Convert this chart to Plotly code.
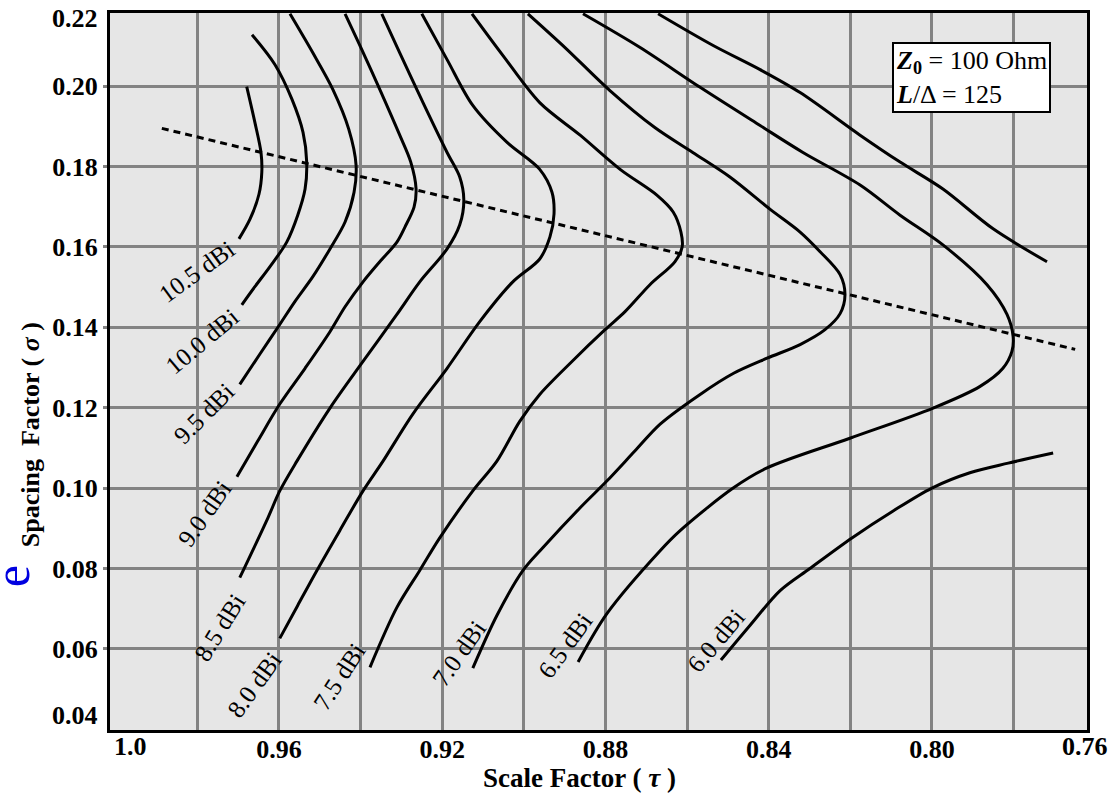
import plotly.graph_objects as go

# ---------------- data ----------------
# Contour lines of constant gain, sampled as (tau, sigma) points
tau_105 = [0.9679, 0.9659, 0.9644, 0.9642, 0.9649, 0.9671, 0.9698]
sig_105 = [0.1999, 0.1910, 0.1835, 0.1786, 0.1731, 0.1669, 0.1620]

tau_100 = [0.9666, 0.9610, 0.9568, 0.9541, 0.9532, 0.9536, 0.9554, 0.9581, 0.9622, 0.9659, 0.9691]
sig_100 = [0.2128, 0.2054, 0.1967, 0.1885, 0.1811, 0.1744, 0.1679, 0.1612, 0.1551, 0.1501, 0.1456]

tau_95 = [0.9573, 0.9517, 0.9468, 0.9429, 0.9411, 0.9416, 0.9438, 0.9475, 0.9517, 0.9561, 0.9598, 0.9647, 0.9696]
sig_95 = [0.2180, 0.2083, 0.1992, 0.1893, 0.1803, 0.1736, 0.1662, 0.1595, 0.1526, 0.1464, 0.1407, 0.1333, 0.1258]

tau_90 = [0.9438, 0.9397, 0.9353, 0.9304, 0.9277, 0.9264, 0.9269, 0.9291, 0.9311, 0.9353, 0.9394,
          0.9438, 0.9475, 0.9536, 0.9598, 0.9652, 0.9703]
sig_90 = [0.2180, 0.2091, 0.1992, 0.1878, 0.1811, 0.1744, 0.1699, 0.1650, 0.1612, 0.1563, 0.1513,
          0.1451, 0.1389, 0.1298, 0.1209, 0.1117, 0.1028]

tau_85 = [0.9348, 0.9304, 0.9247, 0.9188, 0.9157, 0.9147, 0.9157, 0.9188, 0.9255, 0.9311, 0.9394,
          0.9475, 0.9556, 0.9598, 0.9627, 0.9696]
sig_85 = [0.2180, 0.2083, 0.1959, 0.1835, 0.1774, 0.1717, 0.1655, 0.1595, 0.1513, 0.1432, 0.1315,
          0.1199, 0.1067, 0.0993, 0.0926, 0.0777]

tau_80 = [0.9250, 0.9188, 0.9125, 0.9041, 0.8961, 0.8931, 0.8926, 0.8936, 0.8961, 0.9027, 0.9108,
          0.9188, 0.9272, 0.9345, 0.9394, 0.9451, 0.9507, 0.9554, 0.9598]
sig_80 = [0.2180, 0.2066, 0.1952, 0.1860, 0.1793, 0.1736, 0.1682, 0.1625, 0.1570, 0.1513, 0.1414,
          0.1298, 0.1184, 0.1067, 0.0993, 0.0894, 0.0795, 0.0708, 0.0626]

tau_75 = [0.9127, 0.9051, 0.8961, 0.8862, 0.8764, 0.8674, 0.8634, 0.8615, 0.8612, 0.8630, 0.8691,
          0.8752, 0.8801, 0.8882, 0.8961, 0.9010, 0.9066, 0.9125, 0.9206, 0.9255, 0.9311, 0.9377]
sig_75 = [0.2180, 0.2076, 0.1959, 0.1878, 0.1793, 0.1729, 0.1687, 0.1637, 0.1600, 0.1563, 0.1506,
          0.1439, 0.1394, 0.1315, 0.1233, 0.1166, 0.1067, 0.0993, 0.0876, 0.0795, 0.0703, 0.0554]

tau_70 = [0.8990, 0.8899, 0.8789, 0.8679, 0.8586, 0.8495, 0.8397, 0.8323, 0.8274, 0.8225, 0.8213,
          0.8225, 0.8262, 0.8323, 0.8404, 0.8487, 0.8568, 0.8666, 0.8728, 0.8796, 0.8862, 0.8953,
          0.9002, 0.9066, 0.9125]
sig_70 = [0.2180, 0.2096, 0.1989, 0.1897, 0.1835, 0.1774, 0.1694, 0.1637, 0.1588, 0.1531, 0.1481,
          0.1434, 0.1394, 0.1357, 0.1323, 0.1285, 0.1233, 0.1159, 0.1092, 0.1018, 0.0951, 0.0852,
          0.0795, 0.0683, 0.0552]

tau_65 = [0.8855, 0.8715, 0.8568, 0.8421, 0.8316, 0.8176, 0.8078, 0.7973, 0.7865, 0.7816, 0.7801,
          0.7804, 0.7826, 0.7882, 0.7997, 0.8201, 0.8404, 0.8487, 0.8617, 0.8666, 0.8796, 0.8867]
sig_65 = [0.2180, 0.2096, 0.1997, 0.1902, 0.1835, 0.1754, 0.1679, 0.1605, 0.1506, 0.1432, 0.1377,
          0.1340, 0.1298, 0.1253, 0.1199, 0.1124, 0.1050, 0.1000, 0.0894, 0.0844, 0.0688, 0.0567]

tau_60_upper = [0.8671, 0.8536, 0.8421, 0.8323, 0.8176, 0.8078, 0.7973, 0.7850, 0.7718]
sig_60_upper = [0.2180, 0.2101, 0.2041, 0.1984, 0.1878, 0.1811, 0.1744, 0.1645, 0.1563]
tau_60_lower = [0.8517, 0.8446, 0.8372, 0.8299, 0.8196, 0.8095, 0.8000, 0.7907, 0.7813, 0.7703]
sig_60_lower = [0.0572, 0.0658, 0.0745, 0.0800, 0.0876, 0.0943, 0.1000, 0.1038, 0.1062, 0.1087]

# optimum (dotted) line
tau_opt = [0.9887, 0.7649]
sig_opt = [0.1895, 0.1345]

# contour labels
label_text = ["10.5 dBi", "10.0 dBi", "9.5 dBi", "9.0 dBi", "8.5 dBi",
              "8.0 dBi", "7.5 dBi", "7.0 dBi", "6.5 dBi", "6.0 dBi"]
label_tau = [0.9801, 0.9789, 0.9784, 0.9782, 0.9745, 0.9659, 0.9451, 0.9159, 0.8899, 0.8529]
label_sig = [0.1538, 0.1365, 0.1186, 0.0936, 0.0653, 0.0510, 0.0530, 0.0589, 0.0609, 0.0621]
label_angle = [-36, -40, -45, -55, -58, -54, -57, -55, -54, -50]

# axis ticks
x_major = [0.96, 0.92, 0.88, 0.84, 0.80]
x_major_text = ["0.96", "0.92", "0.88", "0.84", "0.80"]
x_minor = [0.98, 0.94, 0.90, 0.86, 0.82, 0.78]
y_major = [0.06, 0.08, 0.10, 0.12, 0.14, 0.16, 0.18, 0.20]
y_major_text = ["0.06", "0.08", "0.10", "0.12", "0.14", "0.16", "0.18", "0.20"]

SERIF = "Liberation Serif, Times New Roman, serif"
GRID = "#838383"

fig = go.Figure()

curves = [(tau_105, sig_105), (tau_100, sig_100), (tau_95, sig_95), (tau_90, sig_90),
          (tau_85, sig_85), (tau_80, sig_80), (tau_75, sig_75), (tau_70, sig_70),
          (tau_65, sig_65), (tau_60_upper, sig_60_upper), (tau_60_lower, sig_60_lower)]
for tx, sy in curves:
    fig.add_trace(go.Scatter(x=tx, y=sy, mode="lines",
                             line=dict(color="black", width=3, shape="spline", smoothing=0.9),
                             hoverinfo="skip", showlegend=False))

fig.add_trace(go.Scatter(x=tau_opt, y=sig_opt, mode="lines",
                         line=dict(color="black", width=3, dash="7px,5px"),
                         hoverinfo="skip", showlegend=False))

annotations = []
for t, x, y, a in zip(label_text, label_tau, label_sig, label_angle):
    annotations.append(dict(x=x, y=y, xref="x", yref="y", text=t, showarrow=False,
                            textangle=a, xanchor="center", yanchor="middle",
                            font=dict(family=SERIF, size=25, color="black")))

tickfont = dict(family=SERIF, size=26, color="black", weight="bold")
# tick labels at the plot edges
annotations.append(dict(x=0.0205, y=-0.0236, xref="paper", yref="paper", text="1.0",
                        showarrow=False, xanchor="center", yanchor="middle", font=tickfont))
annotations.append(dict(x=0.998, y=-0.0236, xref="paper", yref="paper", text="0.76",
                        showarrow=False, xanchor="center", yanchor="middle", font=tickfont))
annotations.append(dict(x=-0.0102, y=0.993, xref="paper", yref="paper", text="0.22",
                        showarrow=False, xanchor="right", yanchor="middle", font=tickfont))
annotations.append(dict(x=-0.0102, y=0.0208, xref="paper", yref="paper", text="0.04",
                        showarrow=False, xanchor="right", yanchor="middle", font=tickfont))

# axis titles
annotations.append(dict(x=0.481, y=-0.0667, xref="paper", yref="paper",
                        text="<b>Scale Factor ( <i>τ</i> )</b>", showarrow=False,
                        xanchor="center", yanchor="middle",
                        font=dict(family=SERIF, size=27, color="black")))
annotations.append(dict(x=-0.0819, y=0.4125, xref="paper", yref="paper",
                        text="<b>Spacing  Factor ( <i>σ</i> )</b>", showarrow=False,
                        textangle=-90, xanchor="center", yanchor="middle",
                        font=dict(family=SERIF, size=26, color="black")))
annotations.append(dict(x=-0.1, y=0.215, xref="paper", yref="paper", text="e",
                        showarrow=False, textangle=-90, xanchor="center", yanchor="middle",
                        font=dict(family=SERIF, size=50, color="#0000e0")))

# parameter box
annotations.append(dict(x=0.8813, y=0.9097, xref="paper", yref="paper",
                        text="<b><i>Z</i><sub>0</sub></b> = 100 Ohm<br><b><i>L</i></b>/Δ = 125",
                        showarrow=False, align="left", xanchor="center", yanchor="middle",
                        bgcolor="white", bordercolor="black", borderwidth=2, borderpad=2,
                        font=dict(family=SERIF, size=26, color="black")))

fig.update_layout(
    width=1110, height=794,
    margin=dict(l=110, r=23, t=10, b=64),
    paper_bgcolor="white", plot_bgcolor="#e6e6e6",
    showlegend=False,
    font=dict(family=SERIF, color="black"),
    annotations=annotations,
    xaxis=dict(range=[1.0014, 0.762], tickvals=x_major, ticktext=x_major_text,
               showgrid=True, gridcolor=GRID, gridwidth=3, zeroline=False,
               showline=True, linecolor="black", linewidth=3, mirror=True,
               ticks="", ticklabelstandoff=-6, tickfont=tickfont,
               minor=dict(tickvals=x_minor, showgrid=True, gridcolor=GRID, gridwidth=3, ticks="")),
    yaxis=dict(range=[0.0398, 0.2182], tickvals=y_major, ticktext=y_major_text,
               showgrid=True, gridcolor=GRID, gridwidth=3, zeroline=False,
               showline=True, linecolor="black", linewidth=3, mirror=True,
               ticks="outside", ticklen=4, tickwidth=3, tickcolor=GRID,
               tickfont=tickfont),
)

fig.write_html("out.html", config={"displayModeBar": False},
               post_script="document.body.style.margin='0';")
